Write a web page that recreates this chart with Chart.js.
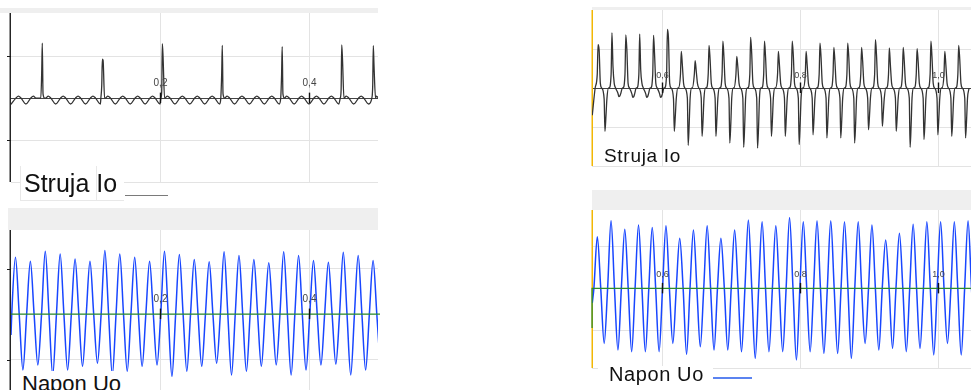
<!DOCTYPE html>
<html>
<head>
<meta charset="utf-8">
<script src="https://cdn.jsdelivr.net/npm/chart.js@4.4.1/dist/chart.umd.min.js"></script>
<style>
  html, body { margin: 0; padding: 0; background: #fff; }
  body { width: 971px; height: 390px; overflow: hidden; position: relative;
         font-family: "Liberation Sans", Arial, sans-serif; }
  canvas { position: absolute; }
  .band { position: absolute; background: #efefef; }
  .box { position: absolute; background: #fff; }
  .cap { position: absolute; white-space: nowrap; color: #111; }
  .key { position: absolute; }
</style>
</head>
<body>
  <!-- toolbar strips above each trace window -->
  <div class="band" style="left:0;top:8px;width:378px;height:5px"></div>
  <div class="band" style="left:8px;top:208px;width:370px;height:22px"></div>
  <div class="band" style="left:592px;top:7px;width:379px;height:3px"></div>
  <div class="band" style="left:592px;top:190px;width:379px;height:20px"></div>

  <canvas id="ioLeft"  width="380" height="172" style="left:0;top:13px"></canvas>
  <canvas id="uoLeft"  width="380" height="178" style="left:0;top:230px"></canvas>
  <canvas id="ioRight" width="388" height="160" style="left:588px;top:10px"></canvas>
  <canvas id="uoRight" width="388" height="162" style="left:588px;top:210px"></canvas>

  <!-- trace captions -->
  <div class="box" style="left:20px;top:166px;width:103px;height:34px;border-left:1px solid #e8e8e8;border-bottom:1px solid #e8e8e8"></div>
  <div class="box" style="left:96px;top:166px;width:1px;height:34px;background:#e8e8e8"></div>
  <div class="cap" style="left:24px;top:171px;font-size:25px;line-height:25px">Struja Io</div>
  <div class="key" style="left:125px;top:195px;width:43px;height:1px;background:#7a7a7a"></div>

  <div class="box" style="left:20px;top:371px;width:106px;height:20px"></div>
  <div class="cap" style="left:22px;top:373px;font-size:22px;line-height:22px">Napon Uo</div>

  <div class="cap" style="left:604px;top:146px;font-size:19px;line-height:19px;letter-spacing:0.7px">Struja Io</div>

  <div class="box" style="left:598px;top:366px;width:115px;height:23px"></div>
  <div class="cap" style="left:609px;top:364px;font-size:20px;line-height:20px;letter-spacing:0.6px">Napon Uo</div>
  <div class="key" style="left:713px;top:377px;width:39px;height:2px;background:#5b83f0"></div>

<script>
// ---- time axes (s) ----
const timeTicksLeft = [0.2, 0.4];
const timeLabelsLeft = ['0,2', '0,4'];
const timeTicksRight = [0.6, 0.8, 1.0];
const timeLabelsRight = ['0,6', '0,8', '1,0'];

// ---- Napon Uo, 0 .. 0.49 s: positive / negative peak of every cycle ----
const uoLeftStart = 0.006;      // first positive peak
const uoLeftPeriod = 0.02;
const uoLeftLead = { x: 0, y: -0.46 };
const uoLeftPeaks = [1.25, 1.16, 1.38, 1.32, 1.21, 1.16, 1.40, 1.32, 1.25, 1.16, 1.38, 1.31, 1.20,
                     1.15, 1.37, 1.29, 1.20, 1.13, 1.37, 1.29, 1.18, 1.14, 1.36, 1.29, 1.18];
const uoLeftTroughs = [-1.23, -1.12, -1.34, -1.23, -1.15, -1.08, -1.34, -1.26, -1.15, -1.12, -1.37, -1.26, -1.15,
                       -1.08, -1.34, -1.26, -1.15, -1.12, -1.34, -1.23, -1.12, -1.10, -1.34, -1.23, -1.25];

// ---- Napon Uo, 0.5 .. 1.05 s ----
const uoRightStart = 0.5058;
const uoRightPeriod = 0.0199;
const uoRightLead = { x: 0.4985, y: -0.35 };
const uoRightPeaks = [1.24, 1.62, 1.42, 1.52, 1.46, 1.50, 1.20, 1.40, 1.50, 1.20, 1.40, 1.64, 1.60, 1.50,
                      1.70, 1.60, 1.62, 1.62, 1.60, 1.60, 1.52, 1.16, 1.32, 1.54, 1.60, 1.60, 1.60, 1.62];
const uoRightTroughs = [-1.32, -1.48, -1.52, -1.52, -1.52, -1.32, -1.58, -1.40, -1.48, -1.48, -1.52, -1.68, -1.52, -1.52,
                        -1.72, -1.52, -1.56, -1.56, -1.68, -1.32, -1.48, -1.44, -1.52, -1.44, -1.60, -1.32, -1.60, -1.50];

// ---- Struja Io, 0 .. 0.49 s: small ripple every cycle plus charging pulses ----
const ioLeftPeriod = 0.02;
const ioLeftDips  = [-0.15, -0.14, -0.14, -0.14, -0.14, -0.14, -0.14, -0.14, -0.14, -0.14, -0.14, -0.14, -0.14,
                     -0.14, -0.14, -0.14, -0.14, -0.14, -0.14, -0.14, -0.14, -0.14, -0.14, -0.14, -0.14];
const ioLeftHumps = [0.05, 0.05, 0.05, 0.05, 0.05, 0.05, 0.05, 0.05, 0.05, 0.05, 0.05, 0.05, 0.05,
                     0.05, 0.05, 0.05, 0.05, 0.05, 0.05, 0.05, 0.05, 0.05, 0.05, 0.05, 0.05];
const ioLeftPulseTimes = [0.042, 0.1226, 0.2031, 0.2836, 0.364, 0.4439, 0.4863];
const ioLeftPulsePeaks = [1.31, 0.93, 1.30, 1.26, 1.23, 1.27, 1.25];
const ioLeftPulsePre   = [0.60, 0.30, 0.16, 0.58, 0.56, 0.20, 0.30];
const ioLeftPulsePost  = [0.10, 0.90, 0.99, 0.10, 0.10, 0.95, 0.75];

// ---- Struja Io, 0.5 .. 1.05 s: positive and negative pulse of every cycle ----
const ioRightStart = 0.5072;
const ioRightPeriod = 0.0201;
const ioRightLead = { x: 0.4985, y: -0.7 };
const ioRightPos = [1.11, 1.41, 1.36, 1.38, 1.35, 1.50, 0.94, 0.70, 1.09, 1.20, 0.81, 1.30, 1.20, 0.94,
                    1.20, 0.94, 1.15, 1.04, 1.15, 1.04, 1.24, 1.03, 1.04, 1.01, 1.20, 0.94, 1.09];
const ioRightShoulder = [0.98, 0.56, 1.00, 0.47, 0.85, 1.28, 0.60, 0.45, 0.75, 0.80, 0.55, 0.90, 0.80, 0.60,
                         0.85, 0.60, 0.80, 0.70, 0.80, 0.70, 0.85, 0.60, 0.70, 0.70, 0.80, 0.60, 0.75];
const ioRightNeg = [-1.11, -0.22, -0.24, -0.24, -0.24, -1.11, -1.47, -1.24, -1.24, -1.41, -1.52, -1.54, -1.24, -1.24,
                    -1.45, -1.20, -1.28, -1.28, -1.41, -1.07, -0.98, -1.11, -1.52, -1.32, -1.20, -1.24, -1.28];
const ioRightNegShoulder = [-0.70, -0.20, -0.22, -0.22, -0.22, -0.70, -0.90, -0.80, -0.75, -0.90, -0.95, -1.00, -0.80, -0.75,
                            -0.90, -0.75, -0.80, -0.80, -0.90, -0.70, -0.60, -0.70, -0.95, -0.85, -0.75, -0.80, -0.80];
const ioRightNotch = [-0.28, -0.14, -0.15, -0.15, -0.15, -0.28, -0.26, -0.26, -0.26, -0.26, -0.26, -0.26, -0.26, -0.26,
                      -0.26, -0.26, -0.26, -0.26, -0.26, -0.26, -0.26, -0.26, -0.26, -0.26, -0.26, -0.26, -0.26];
const ioRightPre = 0.35;

// ---- point lists built from the arrays above ----
function voltageTrace(start, period, lead, peaks, troughs) {
  const pts = [lead];
  peaks.forEach((p, k) => {
    const t = start + k * period;
    pts.push({ x: t - period / 4, y: 0 }, { x: t, y: p }, { x: t + period / 4, y: 0 });
    if (k < troughs.length) pts.push({ x: t + period / 2, y: troughs[k] });
  });
  return pts;
}

function currentTraceLeft() {
  let pts = [];
  ioLeftDips.forEach((d, k) => {
    const t = k * ioLeftPeriod;
    pts.push({ x: t, y: d }, { x: t + 0.0065, y: 0 }, { x: t + 0.01, y: ioLeftHumps[k] }, { x: t + 0.0135, y: 0 });
  });
  ioLeftPulseTimes.forEach(ts => {
    pts = pts.filter(p => p.x < ts - 0.0025 || p.x > ts + 0.0035);
  });
  ioLeftPulseTimes.forEach((ts, i) => {
    pts.push({ x: ts - 0.002, y: 0 }, { x: ts - 0.0008, y: ioLeftPulsePre[i] }, { x: ts, y: ioLeftPulsePeaks[i] },
             { x: ts + 0.001, y: ioLeftPulsePost[i] }, { x: ts + 0.003, y: 0 });
  });
  return pts.sort((a, b) => a.x - b.x);
}

function currentTraceRight() {
  const pts = [ioRightLead];
  ioRightPos.forEach((p, k) => {
    const t = ioRightStart + k * ioRightPeriod;
    pts.push(
      { x: t - 0.0045, y: 0 },
      { x: t - 0.0015, y: ioRightPre },
      { x: t - 0.0003, y: p },
      { x: t + 0.0012, y: ioRightShoulder[k] },
      { x: t + 0.003, y: 0.12 },
      { x: t + 0.005, y: 0 },
      { x: t + 0.0085, y: ioRightNotch[k] },
      { x: t + 0.0097, y: ioRightNeg[k] },
      { x: t + 0.0112, y: ioRightNegShoulder[k] },
      { x: t + 0.0125, y: ioRightNotch[k] },
      { x: t + 0.0148, y: 0 }
    );
  });
  return pts;
}

// axis lines, tick marks on the zero line and time labels above it
const scopePlugin = {
  id: 'scope',
  beforeDatasetsDraw(chart, args, o) {
    const { ctx, chartArea: a, scales: { x, y } } = chart;
    const y0 = Math.round(y.getPixelForValue(0)) + 0.5;
    ctx.save();
    if (o.zeroColor) {
      ctx.strokeStyle = o.zeroColor; ctx.lineWidth = 1;
      ctx.beginPath(); ctx.moveTo(a.left, y0); ctx.lineTo(a.right, y0); ctx.stroke();
    }
    ctx.strokeStyle = o.axisColor; ctx.lineWidth = o.axisWidth;
    ctx.beginPath();
    ctx.moveTo(a.left + o.axisShift, a.top); ctx.lineTo(a.left + o.axisShift, a.bottom);
    ctx.stroke();
    if (o.yMarks) {
      ctx.lineWidth = 1;
      ctx.beginPath();
      o.yMarks.forEach(v => {
        const py = Math.round(y.getPixelForValue(v)) + 0.5;
        ctx.moveTo(a.left - 4, py); ctx.lineTo(a.left, py);
      });
      ctx.stroke();
    }
    ctx.restore();
  },
  afterDatasetsDraw(chart, args, o) {
    const { ctx, scales: { x, y } } = chart;
    const y0 = y.getPixelForValue(0);
    ctx.save();
    ctx.strokeStyle = '#111'; ctx.lineWidth = 1.4;
    ctx.fillStyle = '#444';
    ctx.font = o.labelSize + 'px "Liberation Sans", Arial, sans-serif';
    ctx.textAlign = 'center'; ctx.textBaseline = 'alphabetic';
    o.ticks.forEach((v, i) => {
      const px = Math.round(x.getPixelForValue(v)) + 0.5;
      ctx.beginPath(); ctx.moveTo(px, y0 - 5.5); ctx.lineTo(px, y0 + 5); ctx.stroke();
      ctx.fillText(o.labels[i], px, y0 - o.labelRise);
    });
    ctx.restore();
  }
};

function scopeChart(id, cfg) {
  return new Chart(document.getElementById(id), {
    type: 'line',
    data: { datasets: cfg.datasets },
    options: {
      responsive: false,
      animation: false,
      events: [],
      layout: { padding: cfg.padding },
      elements: { point: { radius: 0 } },
      plugins: { legend: { display: false }, tooltip: { enabled: false }, scope: cfg.scope },
      scales: {
        x: {
          type: 'linear', min: cfg.xMin, max: cfg.xMax,
          ticks: { display: false }, border: { display: false },
          grid: { color: '#e3e3e3', lineWidth: 1, drawTicks: false },
          afterBuildTicks: s => { s.ticks = cfg.scope.ticks.map(v => ({ value: v })); }
        },
        y: {
          type: 'linear', min: cfg.yMin, max: cfg.yMax,
          ticks: { display: false }, border: { display: false },
          grid: { color: '#e3e3e3', lineWidth: 1, drawTicks: false },
          afterBuildTicks: s => { s.ticks = cfg.yGrid.map(v => ({ value: v })); }
        }
      }
    },
    plugins: [scopePlugin]
  });
}

const darkTrace = { borderColor: '#333333', borderWidth: 1.3, cubicInterpolationMode: 'monotone', fill: false };
const blueTrace = { borderColor: '#1846ff', borderWidth: 1.5, cubicInterpolationMode: 'monotone', fill: false };
const greenLine = { borderColor: '#2c8c2c', borderWidth: 1.3, tension: 0, fill: false, clip: 4 };

scopeChart('ioLeft', {
  padding: { left: 11, right: 2, top: 0, bottom: 3 },
  xMin: 0, xMax: 0.4926, yMin: -2, yMax: 2.03, yGrid: [-2, -1, 0, 1],
  datasets: [Object.assign({ label: 'Struja Io', data: currentTraceLeft() }, darkTrace)],
  scope: { ticks: timeTicksLeft, labels: timeLabelsLeft, labelSize: 10, labelRise: 12,
           zeroColor: '#444', axisColor: '#1a1a1a', axisWidth: 1.4, axisShift: -0.75, yMarks: [1, -1] }
});

scopeChart('uoLeft', {
  padding: { left: 11, right: 2, top: 0, bottom: 3 },
  xMin: 0, xMax: 0.4926, yMin: -2, yMax: 1.85, yGrid: [-1, 0, 1],
  datasets: [
    Object.assign({ label: 'nula', data: [{ x: 0, y: 0 }, { x: 0.5, y: 0 }] }, greenLine),
    Object.assign({ label: 'Napon Uo',
      data: voltageTrace(uoLeftStart, uoLeftPeriod, uoLeftLead, uoLeftPeaks, uoLeftTroughs) }, blueTrace)
  ],
  scope: { ticks: timeTicksLeft, labels: timeLabelsLeft, labelSize: 10, labelRise: 12.5,
           axisColor: '#1a1a1a', axisWidth: 1.4, axisShift: -0.75, yMarks: [1, -1] }
});

scopeChart('ioRight', {
  padding: { left: 4, right: 2, top: 0, bottom: 4 },
  xMin: 0.4981, xMax: 1.0517, yMin: -2, yMax: 2, yGrid: [-2, -1, 0, 1],
  datasets: [Object.assign({ label: 'Struja Io', data: currentTraceRight() }, darkTrace)],
  scope: { ticks: timeTicksRight, labels: timeLabelsRight, labelSize: 9, labelRise: 10.5,
           zeroColor: '#444', axisColor: '#f2b705', axisWidth: 1.5, axisShift: 0.25 }
});

scopeChart('uoRight', {
  padding: { left: 4, right: 2, top: 0, bottom: 4 },
  xMin: 0.4981, xMax: 1.0517, yMin: -1.91, yMax: 1.88, yGrid: [-1.91, -1, 0, 1],
  datasets: [
    Object.assign({ label: 'nula', data: [{ x: 0.4982, y: -0.95 }, { x: 0.4982, y: 0 }, { x: 1.06, y: 0 }] }, greenLine),
    Object.assign({ label: 'Napon Uo',
      data: voltageTrace(uoRightStart, uoRightPeriod, uoRightLead, uoRightPeaks, uoRightTroughs) }, blueTrace)
  ],
  scope: { ticks: timeTicksRight, labels: timeLabelsRight, labelSize: 9, labelRise: 11.5,
           axisColor: '#f2b705', axisWidth: 1.5, axisShift: 0.25 }
});
</script>
</body>
</html>
